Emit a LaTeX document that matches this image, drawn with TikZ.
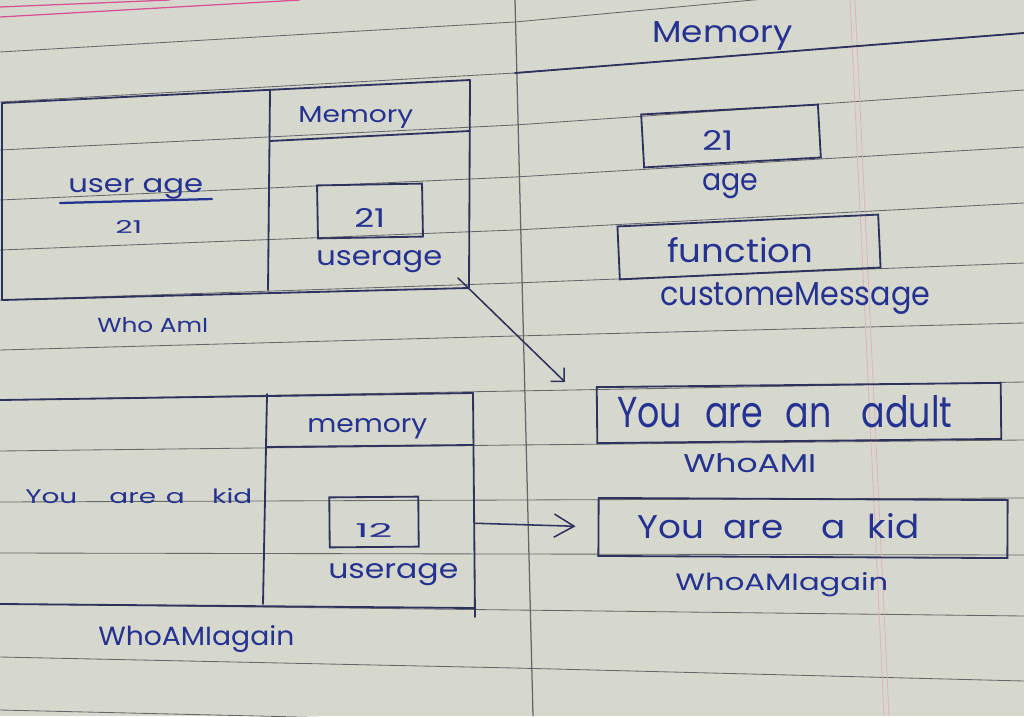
\documentclass[tikz,border=0pt]{standalone}
\usepackage{fontspec}
\setmainfont{Poppins}
\usepackage{graphicx}
\usetikzlibrary{arrows.meta}
\newlength\pxu
\setlength\pxu{0.025cm}
\newcommand\hw[3]{\resizebox{#1\pxu}{#2\pxu}{#3}}
\definecolor{paper}{RGB}{215,216,205}
\definecolor{ink}{RGB}{36,50,145}
\definecolor{inkline}{RGB}{45,50,95}
\definecolor{ruled}{RGB}{100,103,105}
\definecolor{pinkl}{RGB}{215,80,150}
\definecolor{pinkfaint}{RGB}{222,180,190}
\begin{document}
\begin{tikzpicture}[x=0.025cm,y=-0.025cm,
  rule/.style={draw=ruled,line width=0.6pt},
  inkl/.style={draw=inkline,line width=1.3pt,line cap=round,line join=round},
  txt/.style={inner sep=0pt,anchor=base west,text=ink},
  vbox/.style={draw=inkline,line width=1.3pt,inner sep=0pt},
  arrA/.style={draw=inkline,line width=1.1pt,line cap=round,-{Straight Barb[length=2.4mm,width=4.8mm]}},
  arrB/.style={draw=inkline,line width=1.1pt,line cap=round,-{Straight Barb[length=5mm,width=5.8mm]}}
]
\useasboundingbox (0,0) rectangle (1024,716);
\fill[paper] (0,0) rectangle (1024,716);

% ruled lines of the notebook page
\foreach \yl/\ym/\yr in {52/22/-25,102/73/33,150/125/90,200/177/147,250/230/203,300/283/263,350/336/323,400/391/382,451/445/440,502/500/498,553/554/555,604/610/616,657/668/681,710/722/740}
  \draw[rule] (0,\yl) -- (515,\ym) -- (1024,\yr);
\draw[draw=pinkl,line width=0.9pt] (0,7) -- (170,0);
\draw[draw=pinkl,line width=0.9pt] (0,17) -- (300,0);
\draw[draw=pinkfaint,line width=0.6pt] (850,0) -- (884,716);
\draw[draw=pinkfaint,line width=0.6pt] (855,0) -- (889,716);
\draw[draw=ruled,line width=0.9pt] (515,0) -- (533,716);

% top-left table (WhoAmI)
\draw[inkl] (2,103) -- (470,80) -- (469,288) -- (2,300) -- cycle;
\draw[inkl] (270,90) -- (268,290);
\draw[inkl] (270,141) -- (470,131);
\draw[draw=ink,line width=1.6pt,line cap=round] (60,203) -- (212,199);

% bottom-left table (WhoAMIagain)
\draw[inkl] (0,400) -- (473,393);
\draw[inkl] (473,393) -- (475,617);
\draw[inkl] (267,394) -- (263,604);
\draw[inkl] (267,447) -- (473,445);
\draw[inkl] (0,604) -- (474,608);

% right memory header
\draw[inkl] (515,73) -- (1024,33);

% value boxes
\node[vbox,minimum width=105*\pxu,minimum height=53*\pxu,rotate=1] (b21) at (370,211) {};
\node[vbox,minimum width=89*\pxu,minimum height=50*\pxu,rotate=0.5] (b12) at (374,522) {};
\node[vbox,minimum width=177*\pxu,minimum height=53*\pxu,rotate=3.2] (bage) at (731,136) {};
\node[vbox,minimum width=261*\pxu,minimum height=53*\pxu,rotate=2.6] (bfun) at (749,247) {};
\node[vbox,minimum width=404*\pxu,minimum height=56*\pxu,rotate=0.6] (badult) at (799,413) {};
\node[vbox,minimum width=409*\pxu,minimum height=58*\pxu,rotate=-0.3] (bkid) at (803,528) {};

% texts
\node[txt] (memR) at (652,43) {\hw{140}{21}{Memory}};
\node[txt] (memL) at (298,122) {\hw{115}{16}{Memory}};
\node[txt] (uhead) at (68,192) {\hw{135}{14}{user age}};
\node[txt] (v21L) at (115,233) {\hw{27}{13}{21}};
\node[txt] (v21B) at (354,227) {\hw{31}{19}{21}};
\node[txt] (ua1) at (316,265) {\hw{126}{15}{userage}};
\node[txt] (who1) at (97,332) {\hw{111}{15}{Who AmI}};
\node[txt] (memL2) at (307,432) {\hw{120}{14}{memory}};
\node[txt] (kidL) at (25,503) {\hw{227}{15}{You\hspace{1.15em}are\hspace{0.35em}a\hspace{0.98em}kid}};
\node[txt] (v12) at (355,537) {\hw{37}{14}{12}};
\node[txt] (ua2) at (328,578) {\hw{130}{15}{userage}};
\node[txt] (who2) at (98,645) {\hw{196}{20}{WhoAMIagain}};
\node[txt] (v21R) at (702,150) {\hw{31}{20}{21}};
\node[txt] (ageR) at (702,190) {\hw{56}{17}{age}};
\node[txt] (func) at (667,262) {\hw{146}{25}{function}};
\node[txt] (cmsg) at (660,305) {\hw{270}{23}{customeMessage}};
\node[txt] (adult) at (617,427) {\hw{335}{32}{You\hspace{0.66em}are\hspace{0.64em}an\hspace{0.86em}adult}};
\node[txt] (whoR1) at (683,472) {\hw{133}{19}{WhoAMI}};
\node[txt] (kidR) at (637,538) {\hw{282}{25}{You\hspace{0.55em}are\hspace{1.06em}a\hspace{0.63em}kid}};
\node[txt] (whoR2) at (675,590) {\hw{213}{18}{WhoAMIagain}};

% connectors
\coordinate (a1s) at (458,278);
\coordinate (a1e) at (565,382);
\draw[arrA] (a1s) -- (a1e);
\draw[arrB,shorten <=56*\pxu,shorten >=22*\pxu] (b12.east) -- (bkid.west);
\end{tikzpicture}
\end{document}
